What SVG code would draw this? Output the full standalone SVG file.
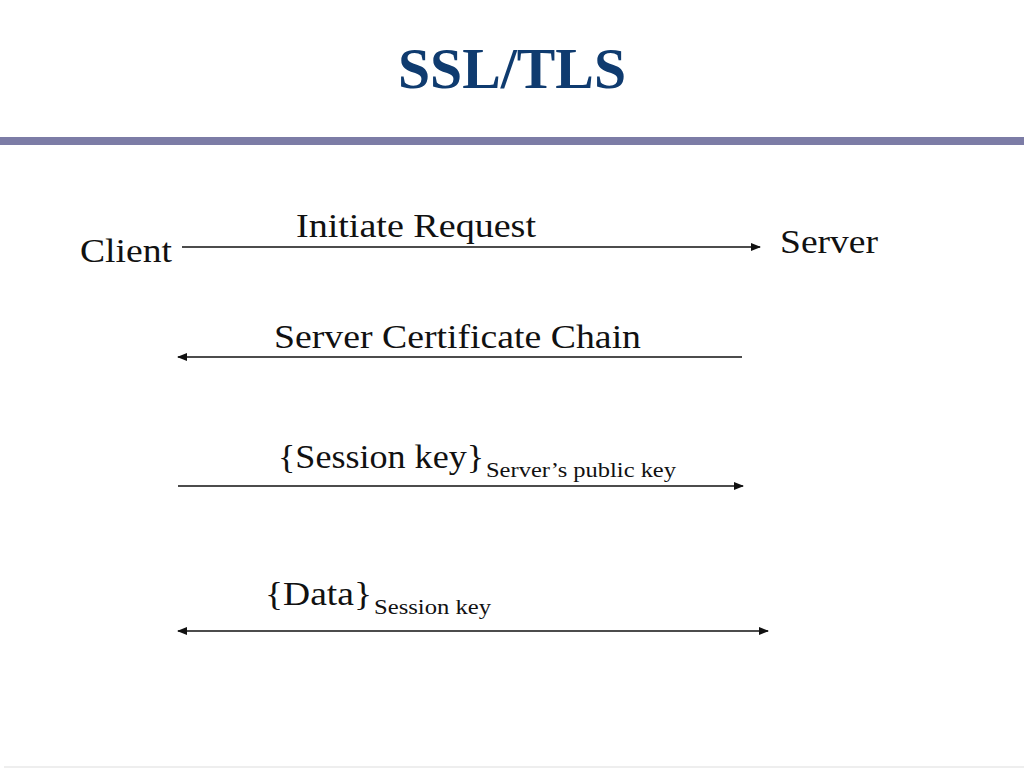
<svg xmlns="http://www.w3.org/2000/svg" width="1024" height="768" viewBox="0 0 1024 768">
<style>
.t{font-family:"Liberation Serif","Times New Roman",serif;fill:#111}
.big{font-size:34px}
.sub{font-size:22px}
.ln{stroke:#111;stroke-width:1.5;fill:none}
</style>
<defs>
<marker id="ah" markerWidth="10" markerHeight="8" refX="9" refY="4" orient="auto-start-reverse" markerUnits="userSpaceOnUse">
<path d="M0,0 L10,4 L0,8 Z" fill="#111"/>
</marker>
</defs>
<rect width="1024" height="768" fill="#fff"/>
<g id="title">
<text x="512" y="88" text-anchor="middle" font-family="Liberation Serif,'Times New Roman',serif" font-weight="bold" font-size="56" fill="#0f3b6f" textLength="228" lengthAdjust="spacingAndGlyphs">SSL/TLS</text>
<rect x="0" y="137" width="1024" height="8" fill="#7c7ca6"/>
</g>
<g id="client"><text class="t big" x="80" y="262" textLength="92" lengthAdjust="spacingAndGlyphs">Client</text></g>
<g id="server"><text class="t big" x="780" y="253" textLength="98" lengthAdjust="spacingAndGlyphs">Server</text></g>
<g id="connectors">
<line class="ln" x1="182" y1="247" x2="760" y2="247" marker-end="url(#ah)"/>
<line class="ln" x1="742" y1="357" x2="178" y2="357" marker-end="url(#ah)"/>
<line class="ln" x1="178" y1="486" x2="743" y2="486" marker-end="url(#ah)"/>
<line class="ln" x1="178" y1="631" x2="768" y2="631" marker-start="url(#ah)" marker-end="url(#ah)"/>
</g>
<g id="labels">
<text class="t big" x="296" y="237" textLength="240" lengthAdjust="spacingAndGlyphs">Initiate Request</text>
<text class="t big" x="274" y="348" textLength="367" lengthAdjust="spacingAndGlyphs">Server Certificate Chain</text>
<text class="t big" x="278" y="468" textLength="206" lengthAdjust="spacingAndGlyphs">{Session key}</text>
<text class="t sub" x="486" y="477" textLength="190" lengthAdjust="spacingAndGlyphs">Server’s public key</text>
<text class="t big" x="265" y="605" textLength="107" lengthAdjust="spacingAndGlyphs">{Data}</text>
<text class="t sub" x="374" y="614" textLength="117" lengthAdjust="spacingAndGlyphs">Session key</text>
</g>
<rect x="4" y="766" width="1020" height="2" fill="#eeeeee"/>
</svg>
